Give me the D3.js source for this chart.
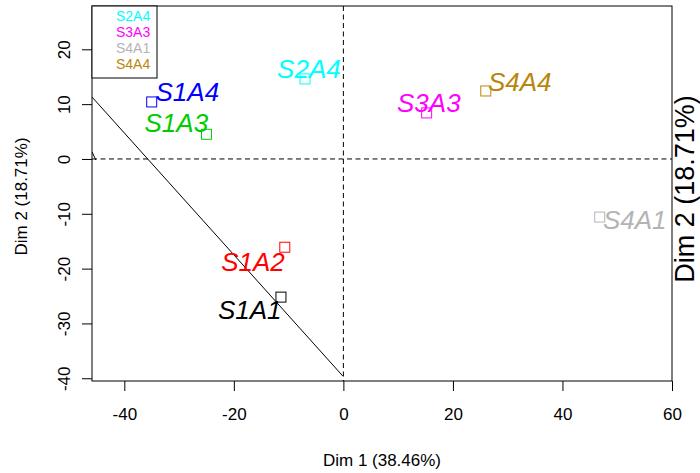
<!DOCTYPE html>
<html>
<head>
<meta charset="utf-8">
<script src="https://cdn.jsdelivr.net/npm/d3@7"></script>
<style>
  html, body { margin: 0; padding: 0; background: #fff; }
  svg { display: block; font-family: "Liberation Sans", Arial, sans-serif; }
</style>
</head>
<body>
<svg id="chart" width="700" height="473"></svg>
<script>
// ---- data ----
const names   = ["S1A1", "S1A2", "S1A3", "S1A4", "S2A4", "S3A3", "S4A1", "S4A4"];
const dim1    = [-11.4, -10.7, -25.0, -35.0, -7.0, 15.2, 46.8, 26.0];
const dim2    = [-25.2, -16.1, 4.5, 10.4, 14.6, 8.4, -10.6, 12.4];
const labelX  = [-17.1, -16.5, -30.5, -28.5, -6.3, 15.6, 53.2, 32.2];
const labelY  = [-27.5, -18.8, 6.6, 12.2, 16.4, 10.3, -11.1, 14.1];
const colors  = ["#000000", "#FF0000", "#00CD00", "#0000FF", "#00FFFF", "#FF00FF", "#B4B4B4", "#B8860B"];
const xTicks  = [-40, -20, 0, 20, 40, 60];
const yTicks  = [-40, -30, -20, -10, 0, 10, 20];
const legendLabels = ["S2A4", "S3A3", "S4A1", "S4A4"];
const legendColors = ["#00FFFF", "#FF00FF", "#B4B4B4", "#B8860B"];
const segX1 = [-45.9, -45.9];
const segY1 = [11.3, 1.3];
const segX2 = [-0.1, -45.2];
const segY2 = [-39.6, -0.2];
const xTitle = "Dim 1 (38.46%)";
const yTitle = "Dim 2 (18.71%)";

// ---- layout ----
const L = 92, R = 672, T = 6, B = 381;
const svg = d3.select("#chart");
const x = d3.scaleLinear().domain([-45.9, 60]).range([L, R]);
const y = d3.scaleLinear().domain([-40.5, 27.9]).range([B, T]);
const fmt = d => String(d);

const defs = svg.append("defs");
defs.append("clipPath").attr("id", "plotclip")
  .append("rect").attr("x", L).attr("y", T).attr("width", R - L).attr("height", B - T);

const plot = svg.append("g").attr("clip-path", "url(#plotclip)");

// reference dashed lines
plot.append("line")
  .attr("x1", L).attr("x2", R).attr("y1", y(0)).attr("y2", y(0))
  .attr("stroke", "#000").attr("stroke-width", 1).attr("stroke-dasharray", "5,3.5");
plot.append("line")
  .attr("x1", x(0)).attr("x2", x(0)).attr("y1", T).attr("y2", B)
  .attr("stroke", "#000").attr("stroke-width", 1).attr("stroke-dasharray", "5,3.5");

// solid segments
plot.selectAll("line.seg").data(segX1).join("line").attr("class", "seg")
  .attr("x1", (d, i) => x(segX1[i])).attr("y1", (d, i) => y(segY1[i]))
  .attr("x2", (d, i) => x(segX2[i])).attr("y2", (d, i) => y(segY2[i]))
  .attr("stroke", "#000").attr("stroke-width", 1);

// points
plot.selectAll("rect.pt").data(names).join("rect").attr("class", "pt")
  .attr("x", (d, i) => x(dim1[i]) - 5).attr("y", (d, i) => y(dim2[i]) - 5)
  .attr("width", 10).attr("height", 10)
  .attr("fill", "none").attr("stroke", (d, i) => colors[i]).attr("stroke-width", 1);

// labels
svg.selectAll("text.lab").data(names).join("text").attr("class", "lab")
  .attr("x", (d, i) => x(labelX[i])).attr("y", (d, i) => y(labelY[i]))
  .attr("dy", "0.36em")
  .attr("text-anchor", "middle")
  .attr("font-style", "italic")
  .attr("font-size", 26)
  .attr("fill", (d, i) => colors[i])
  .text(d => d);

// axes
const xAxis = svg.append("g").attr("transform", `translate(0,${B})`)
  .call(d3.axisBottom(x).tickValues(xTicks).tickSize(10).tickFormat(fmt));
xAxis.select(".domain").remove();
xAxis.selectAll("line").attr("stroke", "#000");
xAxis.selectAll("text").attr("y", 39).attr("dy", 0)
  .attr("font-size", 17).attr("font-family", "Liberation Sans, Arial, sans-serif").attr("fill", "#000");

const yAxis = svg.append("g").attr("transform", `translate(${L},0)`)
  .call(d3.axisLeft(y).tickValues(yTicks).tickSize(10).tickFormat(fmt));
yAxis.select(".domain").remove();
yAxis.selectAll("line").attr("stroke", "#000");
yAxis.selectAll("text")
  .attr("x", null).attr("dy", 0)
  .attr("transform", "translate(-22,0) rotate(-90)")
  .attr("text-anchor", "middle")
  .attr("font-size", 17).attr("font-family", "Liberation Sans, Arial, sans-serif").attr("fill", "#000");

// box
svg.append("rect").attr("x", L).attr("y", T).attr("width", R - L).attr("height", B - T)
  .attr("fill", "none").attr("stroke", "#000").attr("stroke-width", 1);

// titles
svg.append("text").attr("x", (L + R) / 2).attr("y", 466)
  .attr("text-anchor", "middle").attr("font-size", 17).text(xTitle);
svg.append("text").attr("transform", `translate(27,${(T + B) / 2 + 3}) rotate(-90)`)
  .attr("text-anchor", "middle").attr("font-size", 17).text(yTitle);
svg.append("text").attr("transform", `translate(694,189) rotate(-90)`)
  .attr("text-anchor", "middle").attr("font-size", 27).text(yTitle);

// legend
const lg = svg.append("g");
lg.append("rect").attr("x", L).attr("y", T).attr("width", 65).attr("height", 72)
  .attr("fill", "#fff").attr("stroke", "#000").attr("stroke-width", 1);
lg.selectAll("text").data(legendLabels).join("text")
  .attr("x", 116).attr("y", (d, i) => 16 + i * 16).attr("dy", "0.36em")
  .attr("font-size", 14).attr("fill", (d, i) => legendColors[i])
  .text(d => d);
</script>
</body>
</html>
